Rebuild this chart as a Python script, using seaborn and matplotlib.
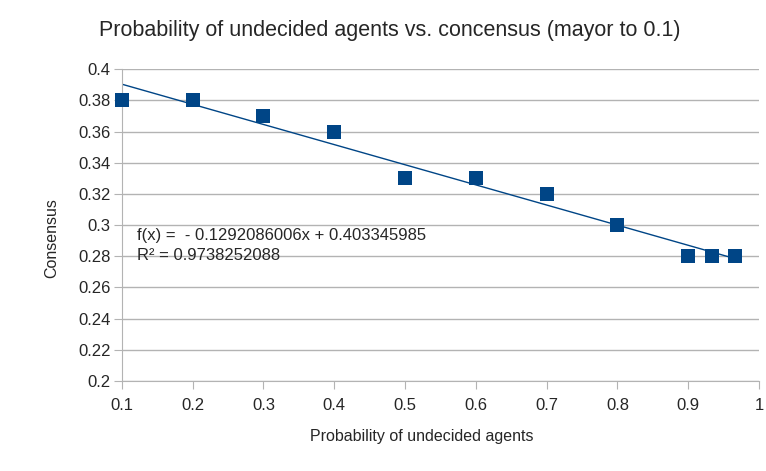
import numpy as np
import pandas as pd
import seaborn as sns
import matplotlib.pyplot as plt

# data
prob_undecided = [0.1, 0.2, 0.3, 0.4, 0.5, 0.6, 0.7, 0.8, 0.9, 0.933, 0.966]
consensus = [0.38, 0.38, 0.37, 0.36, 0.33, 0.33, 0.32, 0.30, 0.28, 0.28, 0.28]
x_ticks = [0.1, 0.2, 0.3, 0.4, 0.5, 0.6, 0.7, 0.8, 0.9, 1]
y_ticks = [0.2, 0.22, 0.24, 0.26, 0.28, 0.3, 0.32, 0.34, 0.36, 0.38, 0.4]
eq_text = "f(x) =  - 0.1292086006x + 0.403345985"
r2_text = "R² = 0.9738252088"

df = pd.DataFrame({'x': prob_undecided, 'y': consensus})

sns.set_style('white')
plt.rcParams['font.family'] = ['Liberation Sans', 'DejaVu Sans']

blue = '#004586'
fig = plt.figure(figsize=(7.66, 4.71), dpi=100)
ax = fig.add_axes([0.159, 0.191, 0.832, 0.662])

# linear trend line
slope, intercept = np.polyfit(df.x, df.y, 1)
xs = np.array([df.x.min(), df.x.max()])
ax.plot(xs, slope * xs + intercept, color=blue, lw=1, zorder=2)

sns.scatterplot(data=df, x='x', y='y', ax=ax, marker='s', s=115, color=blue,
                edgecolor=blue, linewidth=0, zorder=3, clip_on=False)

ax.set_xlim(0.1, 1)
ax.set_ylim(0.2, 0.4)
ax.set_xticks(x_ticks)
ax.set_yticks(y_ticks)
ax.set_xticklabels([f'{v:g}' for v in x_ticks], fontsize=12)
ax.set_yticklabels([f'{v:g}' for v in y_ticks], fontsize=12)
ax.yaxis.grid(True, color='#b3b3b3', lw=1)
ax.xaxis.grid(False)
for side in ['top', 'right']:
    ax.spines[side].set_visible(False)
for side in ['left', 'bottom']:
    ax.spines[side].set_color('#b3b3b3')
ax.tick_params(axis='both', length=6, color='#b3b3b3', direction='out', pad=2)
ax.tick_params(axis='x', bottom=True, pad=6)
ax.tick_params(axis='y', left=True)

ax.set_xlabel('Probability of undecided agents', fontsize=11.5)
ax.set_ylabel('Consensus', fontsize=11.5)
ax.xaxis.set_label_coords(0.47, -0.155)
ax.yaxis.set_label_coords(-0.098, 0.46)

ax.text(0.121, 0.2936, eq_text, fontsize=12, va='center', ha='left')
ax.text(0.121, 0.2805, r2_text, fontsize=12, va='center', ha='left')

fig.text(0.509, 0.935, 'Probability of undecided agents vs. concensus (mayor to 0.1)',
         fontsize=15.5, ha='center', va='center')

fig.savefig('out.png', dpi=100)
